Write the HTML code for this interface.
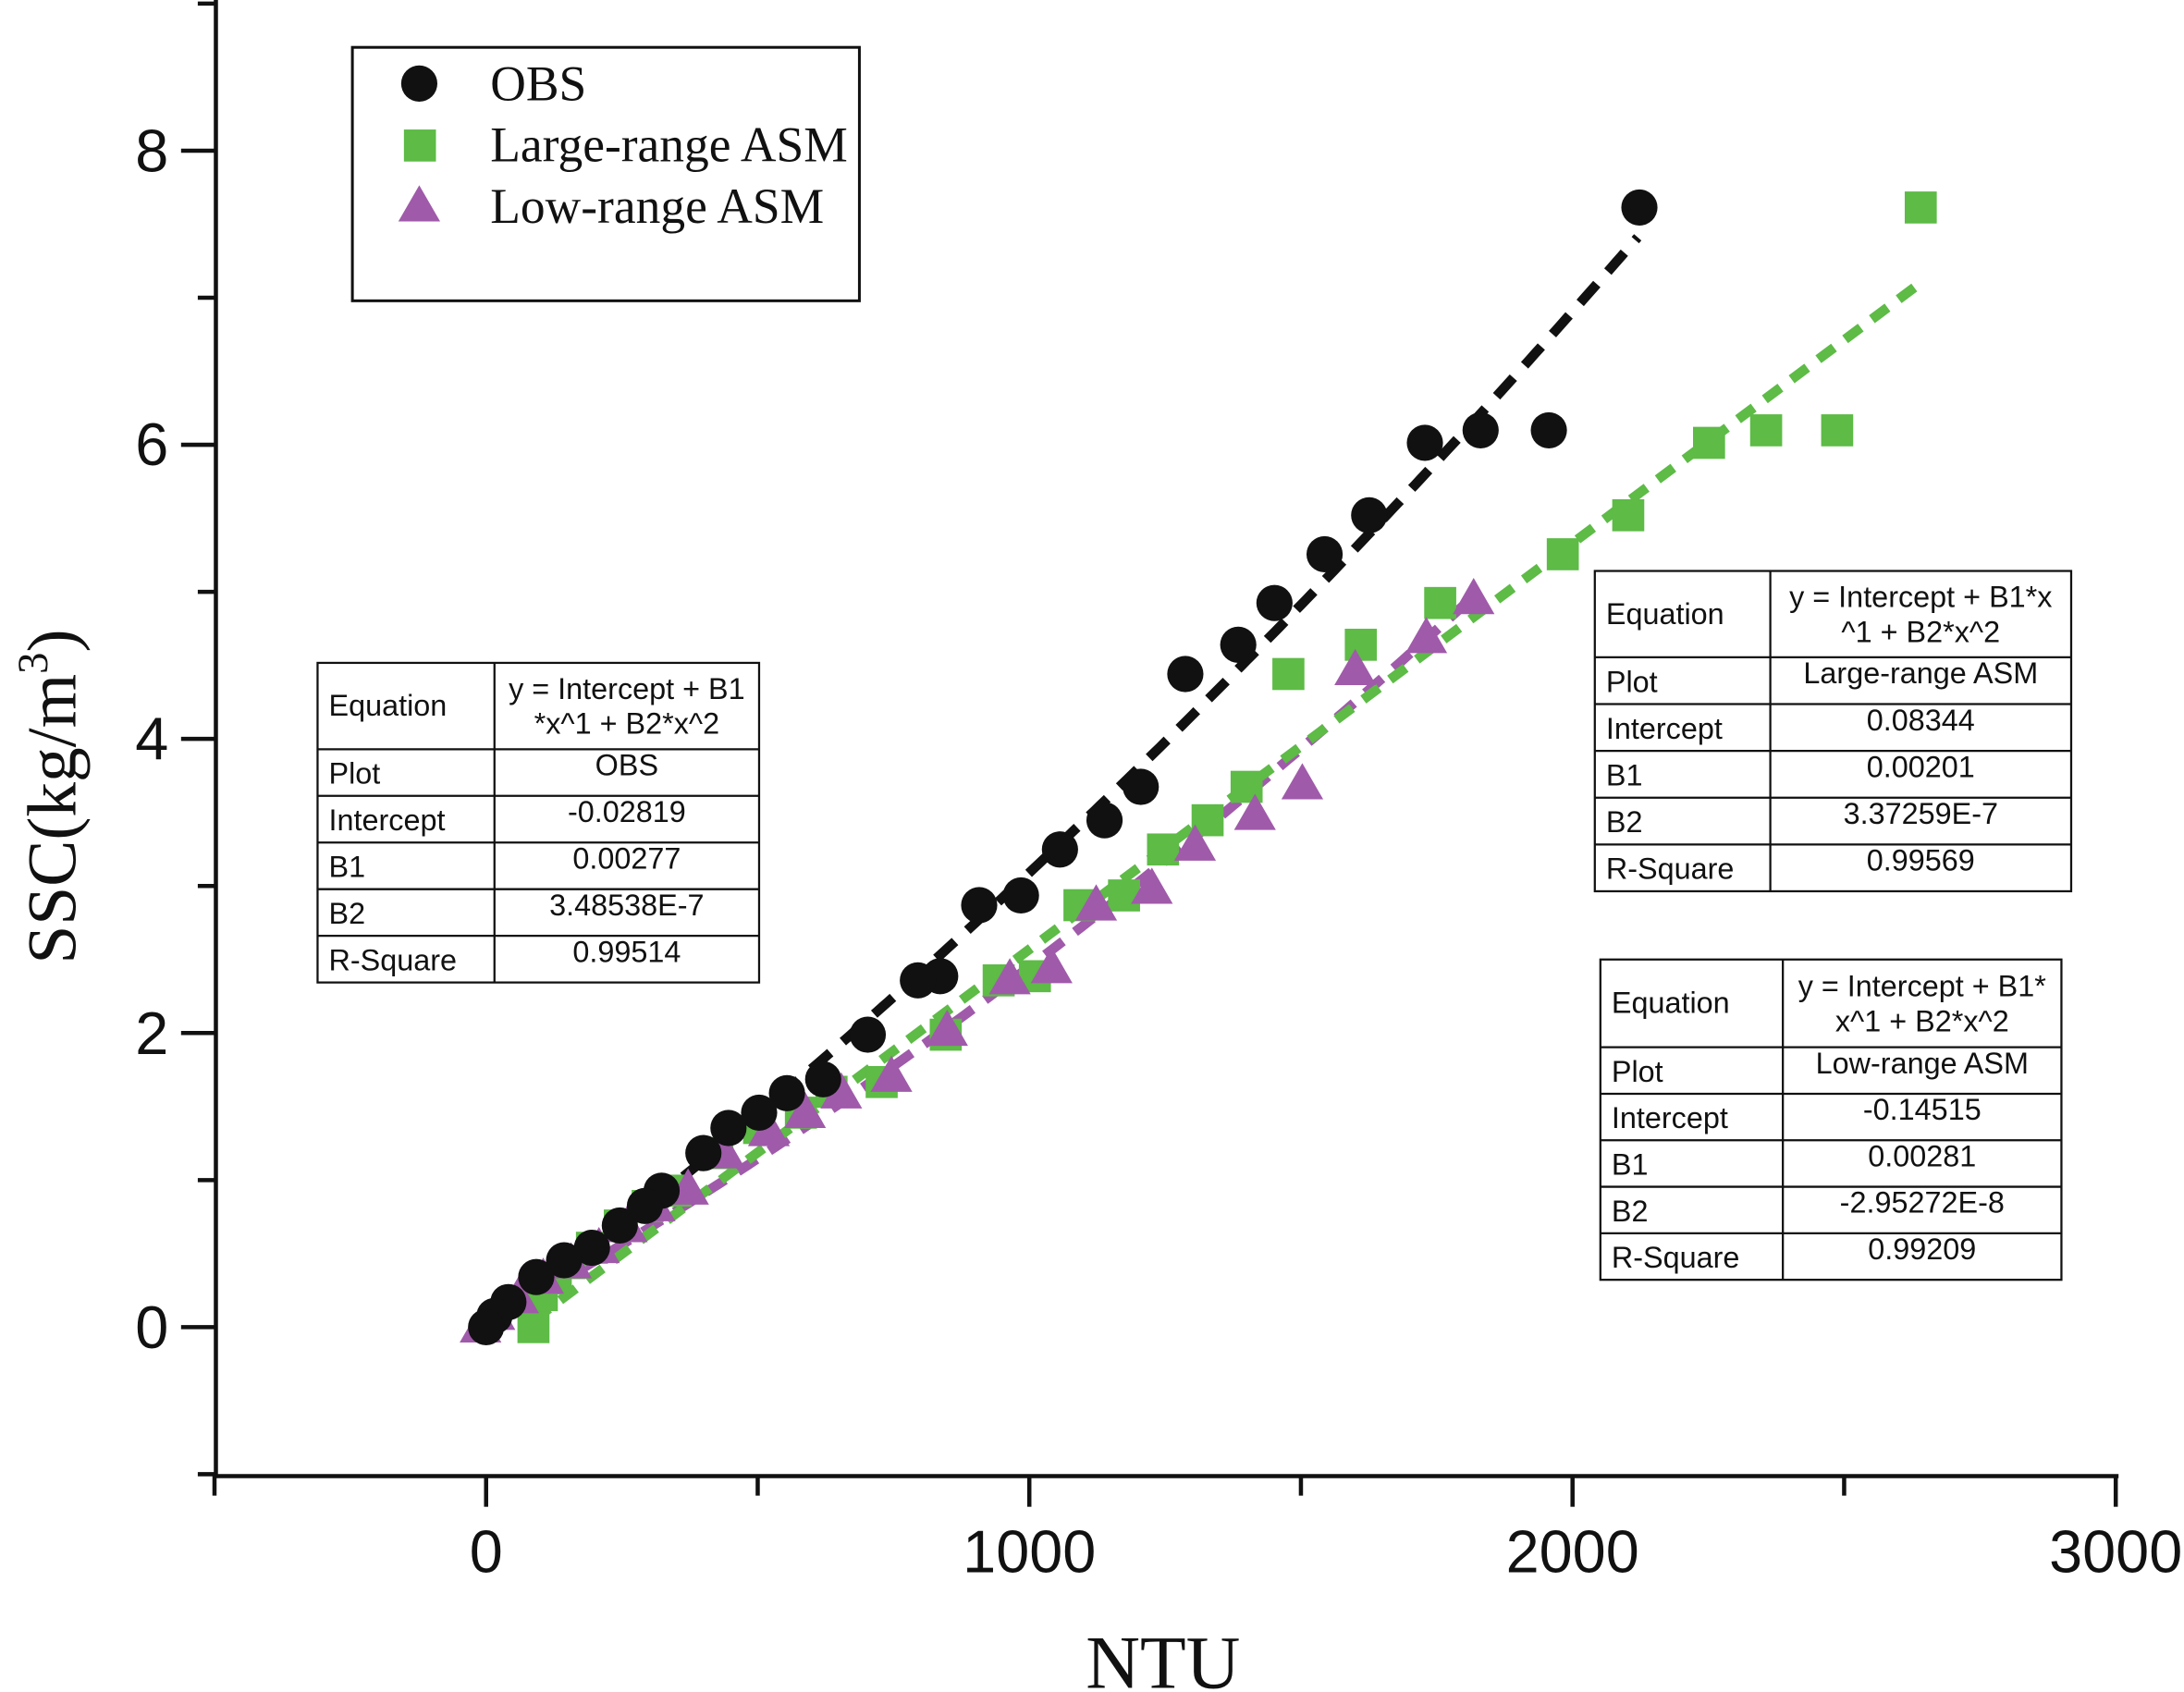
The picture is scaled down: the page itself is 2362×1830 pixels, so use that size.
<!DOCTYPE html>
<html><head><meta charset="utf-8"><style>
html,body{margin:0;padding:0;background:#fff}
svg{display:block}
</style></head><body>
<svg id="s" width="2362" height="1830" viewBox="0 0 1568 1215" preserveAspectRatio="none" xmlns="http://www.w3.org/2000/svg">
<rect width="1568" height="1215" fill="#fff"/>
<g stroke="#111" stroke-width="3" fill="none">
<line x1="155" y1="0" x2="155" y2="1061"/>
<line x1="154" y1="1060" x2="1521" y2="1060"/>
</g>
<g id="ticks" stroke="#111" stroke-width="3"></g>
<g font-family="Liberation Sans, sans-serif" font-size="43" fill="#111">
<text x="121" y="123" text-anchor="end">8</text>
<text x="121" y="334" text-anchor="end">6</text>
<text x="121" y="545" text-anchor="end">4</text>
<text x="121" y="757" text-anchor="end">2</text>
<text x="121" y="968" text-anchor="end">0</text>
<text x="349" y="1129" text-anchor="middle">0</text>
<text x="739" y="1129" text-anchor="middle">1000</text>
<text x="1129" y="1129" text-anchor="middle">2000</text>
<text x="1519" y="1129" text-anchor="middle">3000</text>
</g>
<text x="835" y="1212" text-anchor="middle" font-family="Liberation Serif, serif" font-size="54" fill="#111">NTU</text>
<text transform="translate(54,572) rotate(-90)" text-anchor="middle" font-family="Liberation Serif, serif" font-size="50" fill="#111">SSC(kg/m<tspan dy="-20" font-size="31">3</tspan><tspan dy="20">)</tspan></text>
<g id="curves" fill="none" stroke-width="7"></g>
<g id="pts"></g>
<rect x="253" y="34" width="364" height="182" fill="#fff" stroke="#111" stroke-width="2"/>
<circle cx="301" cy="60" r="13" fill="#111"/>
<rect x="290" y="93" width="23" height="23" fill="#5dbb46"/>
<polygon points="301,133 316,159 286,159" fill="#a05aaa"/>
<g font-family="Liberation Serif, serif" font-size="35.5" fill="#111">
<text x="352" y="72">OBS</text>
<text x="352" y="116">Large-range ASM</text>
<text x="352" y="160">Low-range ASM</text>
</g>
<g id="tables" font-family="Liberation Sans, sans-serif" font-size="21.5" fill="#111"></g>
</svg>
<script>
const NS="http://www.w3.org/2000/svg";
function el(t,a,p){const e=document.createElementNS(NS,t);for(const k in a)e.setAttribute(k,a[k]);document.getElementById(p).appendChild(e);return e;}
const X=v=>349+v*0.39, Y=v=>953-v*105.6;
for(let v=-1;v<=9;v++){const y=Y(v);if(y<2)continue;const maj=(v%2===0);el('line',{x1:maj?130:142,y1:y,x2:155,y2:y},'ticks');}
for(let v=-500;v<=3000;v+=500){const x=X(v);const maj=(v%1000===0);el('line',{x1:x,y1:1060,x2:x,y2:maj?1082:1074},'ticks');}
function curve(a,b,c,x0,x1,col,da){let p=[];for(let x=x0;x<=x1;x+=10)p.push(X(x).toFixed(1)+','+Y(a+b*x+c*x*x).toFixed(1));el('polyline',{points:p.join(' '),stroke:col,'stroke-dasharray':da},'curves');}
function pcurve(x0,y0,p,q,x1,col,da){let pts=[];for(let x=x0;x<=x1;x+=4){const d=x-x0;pts.push(x+','+(y0+p*d+q*d*d).toFixed(1));}el('polyline',{points:pts.join(' '),stroke:col,'stroke-dasharray':da},'curves');}
pcurve(345,953,-0.5586,-2.49e-4,1060,'#a05aaa','16 11');
el('polyline',{points:'383,948 1379,203',stroke:'#5dbb46','stroke-dasharray':'14 10'},'curves');
curve(-0.02819,0.00277,3.48538e-7,0,2120,'#111','18 12');
const obs=[[1177,149],[1023,318],[1063,309],[1112,309],[983,370],[951,398],[915,433],[889,463],[851,484],[819,565],[793,589],[761,610],[733,643],[703,650],[675,701],[659,704],[623,743],[591,775],[565,785],[545,799],[523,810],[505,828],[475,855],[463,866],[445,880],[425,896],[405,905],[385,917],[365,935],[355,945],[349,953]];
const lg=[[1379,149],[1268,309],[1319,309],[1227,318],[1169,370],[1122,398],[1034,433],[977,463],[925,484],[895,565],[867,589],[835,610],[807,643],[775,650],[743,701],[717,704],[679,743],[633,777],[597,784],[575,799],[545,810],[515,828],[485,855],[465,866],[445,880],[425,896],[409,907],[399,918],[389,930],[383,953]];
const lo=[[1058,430],[1024,458],[973,481],[935,563],[901,585],[858,607],[827,638],[787,650],[755,695],[725,703],[680,740],[640,773],[604,785],[578,799],[552,812],[520,828],[494,854],[470,866],[450,881],[430,896],[410,907],[390,918],[372,932],[355,944],[345,953]];
lg.forEach(([x,y])=>el('rect',{x:x-11.5,y:y-11.5,width:23,height:23,fill:'#5dbb46'},'pts'));
lo.forEach(([x,y])=>el('polygon',{points:`${x},${y-15} ${x+15},${y+11} ${x-15},${y+11}`,fill:'#a05aaa'},'pts'));
obs.forEach(([x,y])=>el('circle',{cx:x,cy:y,r:13,fill:'#111'},'pts'));
function table(x0,x1,xd,y0,hh,rh,h1,h2,vals){
 const yEnd=y0+hh+rh*5;
 el('rect',{x:x0,y:y0,width:x1-x0,height:yEnd-y0,fill:'#fff',stroke:'#111','stroke-width':1.5},'tables');
 el('line',{x1:xd,y1:y0,x2:xd,y2:yEnd,stroke:'#111','stroke-width':1.5},'tables');
 for(let i=0;i<5;i++){const y=y0+hh+rh*i;el('line',{x1:x0,y1:y,x2:x1,y2:y,stroke:'#111','stroke-width':1.5},'tables');}
 const t=(x,y,s,anc)=>{const e=el('text',{x:x,y:y,'text-anchor':anc||'start'},'tables');e.textContent=s;};
 t(x0+8,y0+hh/2+7,'Equation');
 const cx=(xd+x1)/2;
 t(cx,y0+hh/2-5,h1,'middle');t(cx,y0+hh/2+20,h2,'middle');
 const labs=['Plot','Intercept','B1','B2','R-Square'];
 for(let i=0;i<5;i++){const y=y0+hh+rh*i;t(x0+8,y+rh/2+8,labs[i]);t(cx,y+rh/2+2,vals[i],'middle');}
}
table(228,545,355,476,62,33.5,'y = Intercept + B1','*x^1 + B2*x^2',['OBS','-0.02819','0.00277','3.48538E-7','0.99514']);
table(1145,1487,1271,410,62,33.6,'y = Intercept + B1*x','^1 + B2*x^2',['Large-range ASM','0.08344','0.00201','3.37259E-7','0.99569']);
table(1149,1480,1280,689,63,33.4,'y = Intercept + B1*','x^1 + B2*x^2',['Low-range ASM','-0.14515','0.00281','-2.95272E-8','0.99209']);
</script>
</body></html>
